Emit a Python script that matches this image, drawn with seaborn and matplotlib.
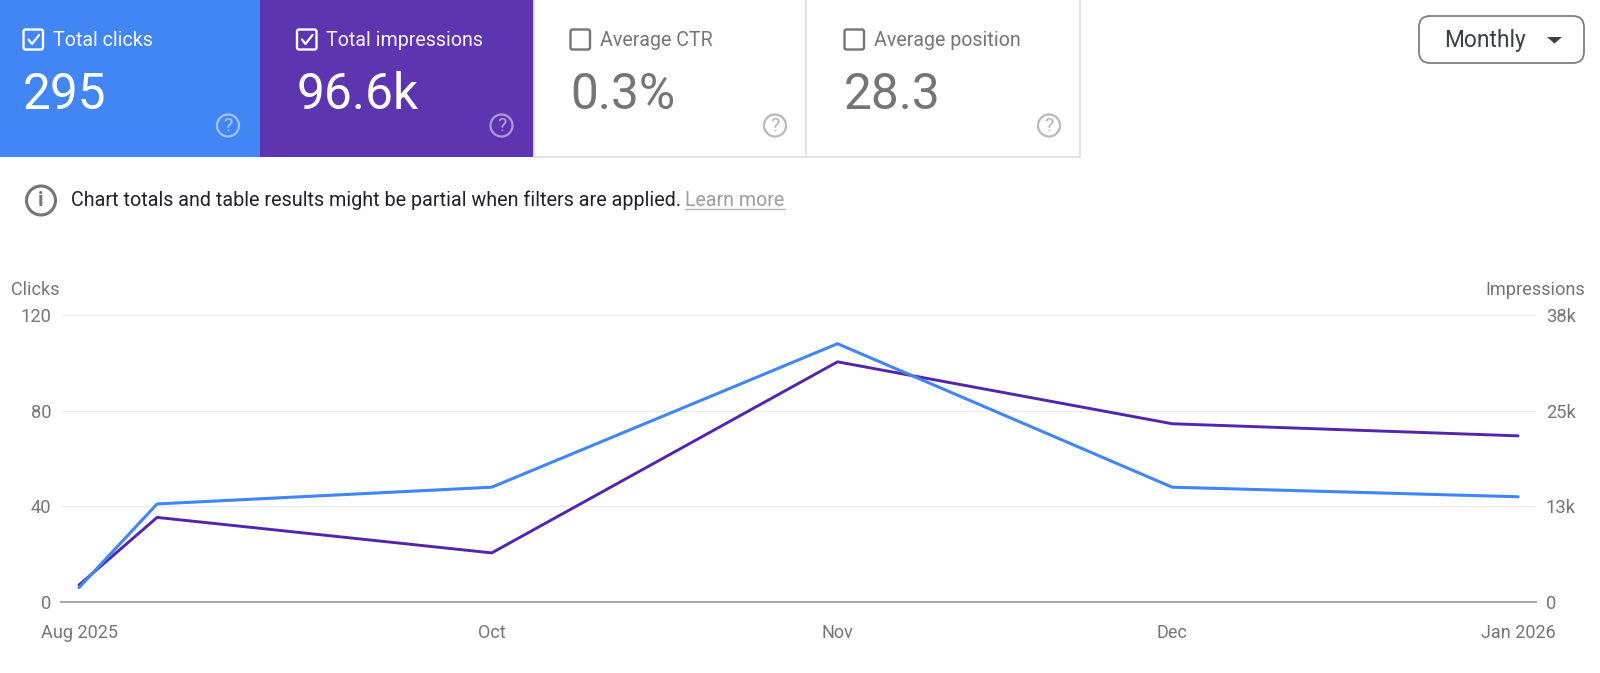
import pandas as pd
import seaborn as sns
import matplotlib.pyplot as plt
import matplotlib.dates as mdates
from matplotlib.patches import Rectangle, FancyBboxPatch, Circle, Polygon

# data
dates = ['2025-08-25', '2025-09-01', '2025-10-01', '2025-11-01', '2025-12-01', '2026-01-01']
clicks = [6, 41, 48, 108, 48, 44]
impressions = [2250, 11200, 6500, 31800, 23600, 22000]

clicks_ticks = [0, 40, 80, 120]
clicks_labels = ['0', '40', '80', '120']
impr_ticks = [0, 12667, 25333, 38000]
impr_labels = ['0', '13k', '25k', '38k']
x_tick_dates = ['2025-08-25', '2025-10-01', '2025-11-01', '2025-12-01', '2026-01-01']
x_tick_labels = ['Aug 2025', 'Oct', 'Nov', 'Dec', 'Jan 2026']

card_titles = ['Total clicks', 'Total impressions', 'Average CTR', 'Average position']
card_values = ['295', '96.6k', '0.3%', '28.3']

BLUE = '#4285f4'
PURPLE = '#5e35b1'
LINE_PURPLE = '#5425ab'
GREY = '#757575'

df = pd.DataFrame({'date': pd.to_datetime(dates), 'clicks': clicks, 'impressions': impressions})

sns.set_theme(style='white')
plt.rcParams['font.family'] = ['Roboto', 'DejaVu Sans']

W, H = 1600, 673
fig = plt.figure(figsize=(16, 6.73), dpi=100)

# chart axes
ax = fig.add_axes([61 / W, 1 - 602 / H, (1536 - 61) / W, (602 - 315) / H])
ax2 = ax.twinx()

sns.lineplot(data=df, x='date', y='impressions', ax=ax2, color=LINE_PURPLE, linewidth=2.1, zorder=3)
sns.lineplot(data=df, x='date', y='clicks', ax=ax, color=BLUE, linewidth=2.2, zorder=3)

day_px = 1439 / (df['date'].iloc[-1] - df['date'].iloc[0]).days
pad = pd.Timedelta(days=18 / day_px)
ax.set_xlim(df['date'].iloc[0] - pad, df['date'].iloc[-1] + pad)
ax.set_ylim(0, 120)
ax2.set_ylim(0, 38000)

ax.set_yticks(clicks_ticks, clicks_labels)
ax2.set_yticks(impr_ticks, impr_labels)
ax.set_xticks(mdates.date2num(pd.to_datetime(x_tick_dates)), x_tick_labels)
ax.set_xlabel('')
ax.set_ylabel('')
ax2.set_xlabel('')
ax2.set_ylabel('')

ax.tick_params(axis='y', length=0, pad=7, labelsize=13.2, labelcolor=GREY)
ax2.tick_params(axis='y', length=0, pad=7, labelsize=13.2, labelcolor=GREY)
ax.tick_params(axis='x', length=0, pad=16, labelsize=13, labelcolor=GREY)
# grid sits on the lower axes so it stays under both lines
ax.grid(False)
ax2.grid(axis='y', color='#ececec', linewidth=1)
ax2.set_axisbelow(True)
ax.set_facecolor('none')
ax2.set_facecolor('none')
ax.set_zorder(ax2.get_zorder() + 1)
for a in (ax, ax2):
    for side in ('top', 'left', 'right'):
        a.spines[side].set_visible(False)
    a.spines['bottom'].set_color('#a8a8a8')
    a.spines['bottom'].set_linewidth(1.4)

# overlay in pixel coordinates for the scorecards
ui = fig.add_axes([0, 0, 1, 1], zorder=-1)
ui.set_xlim(0, W)
ui.set_ylim(H, 0)
ui.axis('off')

ui.text(11, 290, 'Clicks', fontsize=13.1, color=GREY, va='center')
ui.text(1585, 290, 'Impressions', fontsize=13.1, color=GREY, va='center', ha='right')

card_x = [0, 260, 534, 806]
card_w = [260, 274, 272, 274]
content_x = [0, 273.5, 547, 821]
card_bg = [BLUE, PURPLE, 'white', 'white']
for i in range(4):
    x0 = content_x[i]
    filled = i < 2
    fg = 'white' if filled else GREY
    ui.add_patch(Rectangle((card_x[i], -2), card_w[i], 159, facecolor=card_bg[i],
                           edgecolor='none' if filled else '#e0e0e0', linewidth=1.3))
    ui.add_patch(FancyBboxPatch((x0 + 23.5, 29.5), 19.5, 20, boxstyle='round,pad=0,rounding_size=2',
                                facecolor='none', edgecolor=fg, linewidth=1.7))
    if filled:
        ui.plot([x0 + 28.5, x0 + 32, x0 + 39], [39.5, 44, 35], color='white', linewidth=1.6)
    ui.text(x0 + 53, 40, card_titles[i], fontsize=14.1, color=fg, va='center',
            alpha=0.95 if filled else 1)
    ui.text(x0 + 23, 95, card_values[i], fontsize=35.7, color=fg, va='center')
    cx = x0 + 228
    ui.add_patch(Circle((cx, 125.5), 11, facecolor='none', edgecolor=fg, linewidth=1.6, alpha=0.5))
    ui.text(cx, 126, '?', fontsize=14, color=fg, ha='center', va='center', alpha=0.55)

# info row
ui.add_patch(Circle((41, 200.5), 14.5, facecolor='none', edgecolor=GREY, linewidth=2.2))
ui.text(41, 201, 'i', fontsize=15, color=GREY, ha='center', va='center', fontweight='bold')
ui.text(71, 200.5, 'Chart totals and table results might be partial when filters are applied.',
        fontsize=14.2, color='#202124', va='center')
ui.text(685, 200.5, 'Learn more', fontsize=14.1, color='#9e9e9e', va='center')
ui.plot([685, 785], [209, 209], color='#b5b5b5', linewidth=1)

# period dropdown
ui.add_patch(FancyBboxPatch((1419, 16), 165, 47, boxstyle='round,pad=0,rounding_size=11',
                            facecolor='white', edgecolor='#7f7f7f', linewidth=1.3))
ui.text(1444.5, 40, 'Monthly', fontsize=16.4, color='#3c4043', va='center')
ui.add_patch(Polygon([[1547, 37], [1562, 37], [1554.5, 43.5]], facecolor='#3c4043', edgecolor='none'))

fig.savefig('out.png', dpi=100)
